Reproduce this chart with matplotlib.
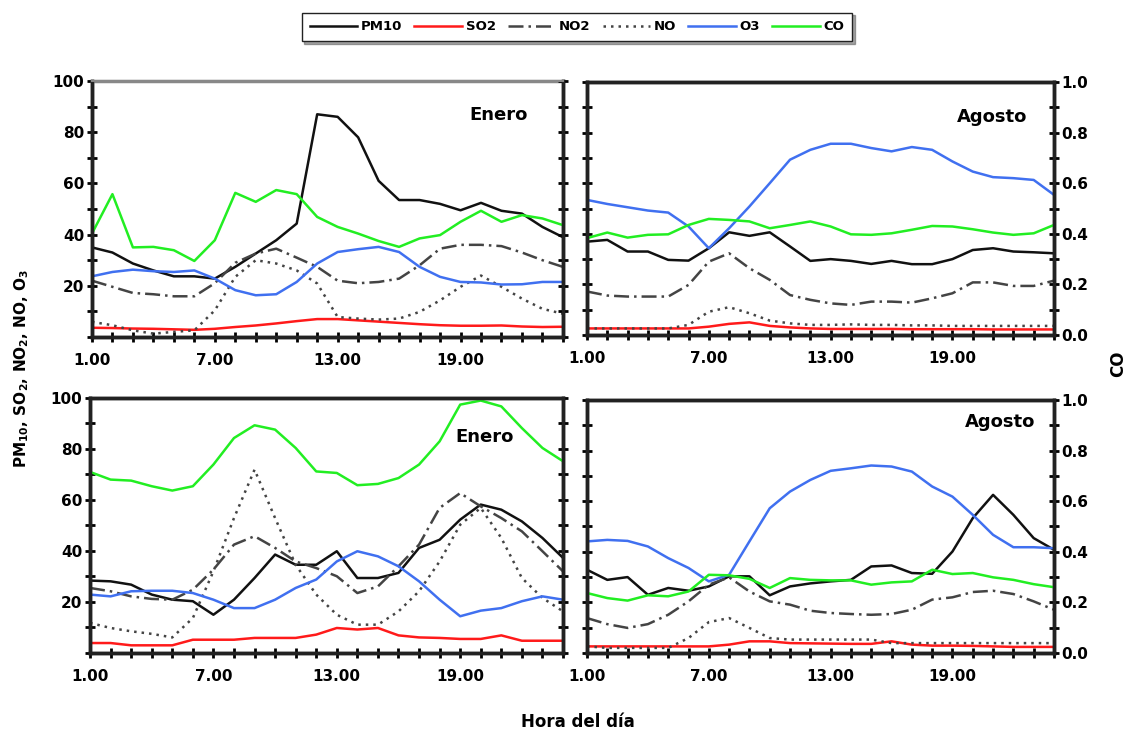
import numpy as np
import matplotlib
matplotlib.use('Agg')
import matplotlib.pyplot as plt
from matplotlib.ticker import MultipleLocator, FixedLocator

plt.rcParams['font.family'] = ['DejaVu Sans']
plt.rcParams['font.weight'] = 'bold'

horas = np.arange(1, 25)

# panel 1: Enero (arriba)
pm10_e1 = [35, 33, 28.7, 26, 23.7, 23.7, 22.8, 27.4, 32.6, 37.8, 44.3, 87, 86, 78, 61, 53.5, 53.5, 52, 49.5, 52.4, 49.3, 48.2, 43, 39]
so2_e1 = [3.6, 3.5, 3.3, 3.2, 3.0, 2.8, 3.2, 3.9, 4.5, 5.3, 6.2, 7.0, 7.0, 6.5, 6.0, 5.5, 5.0, 4.6, 4.4, 4.4, 4.5, 4.1, 3.9, 4.0]
no2_e1 = [22, 19.6, 17.2, 16.7, 15.9, 15.9, 21, 29, 32.6, 34.5, 31, 27.4, 22, 21, 21.5, 22.8, 28, 34.5, 36, 36, 35.5, 33, 30, 27.4]
no_e1 = [5.9, 4.6, 2.6, 1.3, 2, 2.6, 10.4, 23.5, 30, 28.7, 26, 20.9, 7.8, 7.2, 6.8, 7.2, 9.8, 14.3, 19.6, 24, 19.6, 15, 11, 9.1]
o3_e1 = [23.7, 25.4, 26.3, 25.7, 25.4, 26, 22.8, 18.3, 16.3, 16.7, 21.5, 28.7, 33.2, 34.3, 35.2, 33.2, 27.4, 23.5, 21.5, 21.3, 20.5, 20.6, 21.5, 21.5]
co_e1 = [0.404, 0.558, 0.35, 0.352, 0.339, 0.297, 0.378, 0.563, 0.528, 0.574, 0.558, 0.469, 0.43, 0.404, 0.375, 0.352, 0.385, 0.398, 0.45, 0.493, 0.45, 0.476, 0.463, 0.437]

# panel 2: Agosto (arriba)
pm10_a1 = [36.9, 37.6, 33, 33, 29.7, 29.4, 34.3, 40.6, 39.2, 40.6, 35, 29.3, 30, 29.3, 28.1, 29.3, 28, 28, 30, 33.6, 34.3, 33, 32.7, 32.3]
so2_a1 = [2.6, 2.6, 2.6, 2.6, 2.6, 2.6, 3.3, 4.4, 5.0, 3.6, 3.0, 2.6, 2.4, 2.4, 2.4, 2.4, 2.3, 2.3, 2.3, 2.3, 2.2, 2.2, 2.2, 2.2]
no2_a1 = [17.2, 15.6, 15.2, 15.2, 15.2, 19.8, 29, 32.3, 26.4, 21.8, 15.8, 13.9, 12.5, 11.9, 13.2, 13.2, 12.8, 14.5, 16.5, 20.8, 20.8, 19.4, 19.4, 21.5]
no_a1 = [2.6, 2.6, 2.6, 2.6, 2.6, 4, 9.2, 11, 8.6, 5.7, 4.6, 4, 4, 4.2, 4, 4, 3.8, 3.8, 3.6, 3.6, 3.6, 3.6, 3.6, 3.6]
o3_a1 = [53.4, 51.8, 50.5, 49.2, 48.4, 42.9, 34.3, 42.2, 50.8, 60, 69.3, 73.2, 75.6, 75.6, 73.9, 72.6, 74.3, 73.2, 68.6, 64.6, 62.4, 62, 61.3, 55.4]
co_a1 = [0.383, 0.405, 0.385, 0.396, 0.398, 0.435, 0.459, 0.455, 0.449, 0.422, 0.435, 0.449, 0.429, 0.398, 0.396, 0.402, 0.416, 0.431, 0.429, 0.418, 0.405, 0.396, 0.402, 0.435]

# panel 3: Enero (abajo)
pm10_e2 = [28.4, 28.1, 26.8, 22.9, 20.9, 20.3, 15, 20.9, 29.4, 38.6, 34.6, 34.6, 39.9, 29.4, 29.4, 31.4, 41.2, 44.4, 52.3, 58.2, 56.2, 51.6, 45.1, 37.3]
so2_e2 = [3.9, 3.9, 3, 3, 3, 5.2, 5.2, 5.2, 5.9, 5.9, 5.9, 7.2, 9.8, 9.2, 9.8, 6.9, 6.1, 5.9, 5.5, 5.5, 6.9, 4.8, 4.8, 4.8]
no2_e2 = [25.5, 24.2, 22.2, 21.2, 20.9, 24.8, 32.7, 42.5, 45.8, 41.2, 35.9, 33.3, 30.1, 23.5, 26.1, 34, 42.5, 56.9, 62.7, 57.5, 52.9, 47.7, 39.9, 32]
no_e2 = [11.8, 9.8, 8.5, 7.5, 6.1, 13.7, 32, 52.9, 71.9, 52.9, 34.6, 22.9, 15, 11.1, 11.1, 16.3, 24.2, 35.9, 50.3, 56.9, 45.1, 29.4, 21.6, 16.3]
o3_e2 = [22.9, 22.2, 24.2, 24.4, 24.4, 23.5, 20.9, 17.6, 17.6, 20.9, 25.5, 28.8, 35.9, 39.9, 37.9, 34, 28.1, 20.9, 14.4, 16.6, 17.6, 20.3, 22.2, 20.9]
co_e2 = [0.71, 0.68, 0.676, 0.654, 0.637, 0.654, 0.739, 0.843, 0.893, 0.876, 0.804, 0.712, 0.706, 0.658, 0.663, 0.686, 0.739, 0.83, 0.974, 0.99, 0.967, 0.882, 0.804, 0.752]

# panel 4: Agosto (abajo)
pm10_a2 = [32.9, 28.9, 30, 23, 25.7, 24.6, 26.3, 30.3, 30.3, 22.8, 26.3, 27.5, 28.3, 28.9, 34.2, 34.6, 31.6, 31.3, 40.1, 53.3, 62.5, 54.6, 45.4, 40.8]
so2_a2 = [2.6, 2.6, 2.6, 2.6, 2.6, 2.6, 2.6, 3.3, 4.6, 4.6, 3.9, 3.8, 3.7, 3.6, 3.6, 4.6, 3.3, 2.9, 2.9, 2.8, 2.6, 2.4, 2.4, 2.4]
no2_a2 = [13.8, 11.4, 9.9, 11.4, 15.1, 20.4, 27, 29.9, 24.3, 20.4, 19.1, 16.7, 15.8, 15.4, 15.1, 15.4, 17.1, 21.1, 22, 24.1, 24.6, 23.3, 20.4, 17.1]
no_a2 = [2.6, 2, 2, 2, 2, 5.9, 12.2, 13.8, 9.9, 5.9, 5.3, 5.3, 5.3, 5.3, 5.3, 3.9, 3.9, 3.9, 3.9, 3.9, 3.9, 3.9, 3.9, 3.9]
o3_a2 = [44.1, 44.7, 44.3, 42.1, 37.5, 33.6, 28.3, 30.9, 44.1, 57.2, 63.8, 68.4, 72, 73, 74.1, 73.7, 71.7, 65.8, 61.8, 54.6, 46.7, 41.8, 41.8, 41.4]
co_a2 = [0.237, 0.217, 0.207, 0.228, 0.224, 0.243, 0.309, 0.307, 0.293, 0.257, 0.296, 0.289, 0.287, 0.287, 0.27, 0.279, 0.283, 0.329, 0.312, 0.316, 0.299, 0.289, 0.272, 0.26]

paneles = [
    ('Enero', [pm10_e1, so2_e1, no2_e1, no_e1, o3_e1], co_e1, [0.0813, 0.5415, 0.4164, 0.3483], (0.864, 0.867), True),
    ('Agosto', [pm10_a1, so2_a1, no2_a1, no_a1, o3_a1], co_a1, [0.519, 0.5442, 0.4129, 0.3442], (0.867, 0.862), False),
    ('Enero', [pm10_e2, so2_e2, no2_e2, no_e2, o3_e2], co_e2, [0.0796, 0.1116, 0.4182, 0.3469], (0.835, 0.847), True),
    ('Agosto', [pm10_a2, so2_a2, no2_a2, no_a2, o3_a2], co_a2, [0.519, 0.1116, 0.4129, 0.3442], (0.884, 0.913), False),
]

nombres = ['PM10', 'SO2', 'NO2', 'NO', 'O3']
colores = ['#111111', '#ff1a1a', '#444444', '#444444', '#4070f0']
estilos = ['-', '-', (0, (6, 2, 1, 2)), (0, (1, 2)), '-']

fig = plt.figure(figsize=(11.31, 7.35), dpi=100)

for titulo, series, co, pos, tpos, izq in paneles:
    ax = fig.add_axes(pos)
    ax2 = ax.twinx()
    for s, n, c, ls in zip(series, nombres, colores, estilos):
        ax.plot(horas, s, color=c, ls=ls, lw=1.8, label=n)
    ax2.plot(horas, co, color='#22ee22', lw=1.8, label='CO')
    ax.set_xlim(1, 24)
    ax.set_ylim(0, 100)
    ax2.set_ylim(0, 1)
    ax.xaxis.set_major_locator(FixedLocator([1, 7, 13, 19]))
    ax.set_xticklabels(['1.00', '7.00', '13.00', '19.00'], fontweight='bold', fontsize=11)
    ax.xaxis.set_minor_locator(MultipleLocator(1))
    ax.yaxis.set_major_locator(FixedLocator([20, 40, 60, 80, 100]))
    ax.yaxis.set_minor_locator(MultipleLocator(10))
    ax2.yaxis.set_major_locator(MultipleLocator(0.2))
    ax2.yaxis.set_minor_locator(MultipleLocator(0.1))
    ax.tick_params(axis='x', which='both', direction='inout', length=7, width=2, pad=8)
    ax.tick_params(axis='y', which='both', direction='inout', length=7, width=2, pad=2)
    ax2.tick_params(axis='y', which='both', direction='inout', length=7, width=2, pad=2)
    if izq:
        ax.set_yticklabels(['20', '40', '60', '80', '100'], fontweight='bold', fontsize=11)
        ax2.set_yticklabels([])
    else:
        ax.set_yticklabels([])
        ax2.set_yticklabels(['%.1f' % v for v in ax2.get_yticks()], fontweight='bold', fontsize=11)
    for a in (ax, ax2):
        for sp in a.spines.values():
            sp.set_color('#222222')
            sp.set_linewidth(2.5)
    if izq and pos[1] > 0.5:
        ax.spines['top'].set_color('#888888')
        ax2.spines['top'].set_color('#888888')
        ax2.spines['top'].set_linewidth(1.5)
    ax.text(tpos[0], tpos[1], titulo, transform=ax.transAxes, ha='center', va='center',
            fontsize=13, fontweight='bold')
    h1, l1 = ax.get_legend_handles_labels()
    h2, l2 = ax2.get_legend_handles_labels()

fig.legend(h1 + h2, l1 + l2, loc='center', bbox_to_anchor=(577 / 1131, 1 - 27 / 735), ncol=6,
           frameon=True, fancybox=False, shadow=True, edgecolor='#222222', framealpha=1,
           handlelength=3.6, handletextpad=0.3, columnspacing=0.9, borderpad=0.6,
           prop={'weight': 'bold', 'size': 9.5})

fig.text(22 / 1131, 1 - 368 / 735, r'PM$_{\mathbf{10}}$, SO$_{\mathbf{2}}$, NO$_{\mathbf{2}}$, NO, O$_{\mathbf{3}}$',
         rotation=90, ha='center', va='center', fontsize=11, fontweight='bold')
fig.text(1118 / 1131, 1 - 364 / 735, 'CO', rotation=90, ha='center', va='center',
         fontsize=12, fontweight='bold')
fig.text(578 / 1131, 1 - 722 / 735, 'Hora del día', ha='center', va='center',
         fontsize=12, fontweight='bold')

fig.savefig('out.png', dpi=100, facecolor='white')
